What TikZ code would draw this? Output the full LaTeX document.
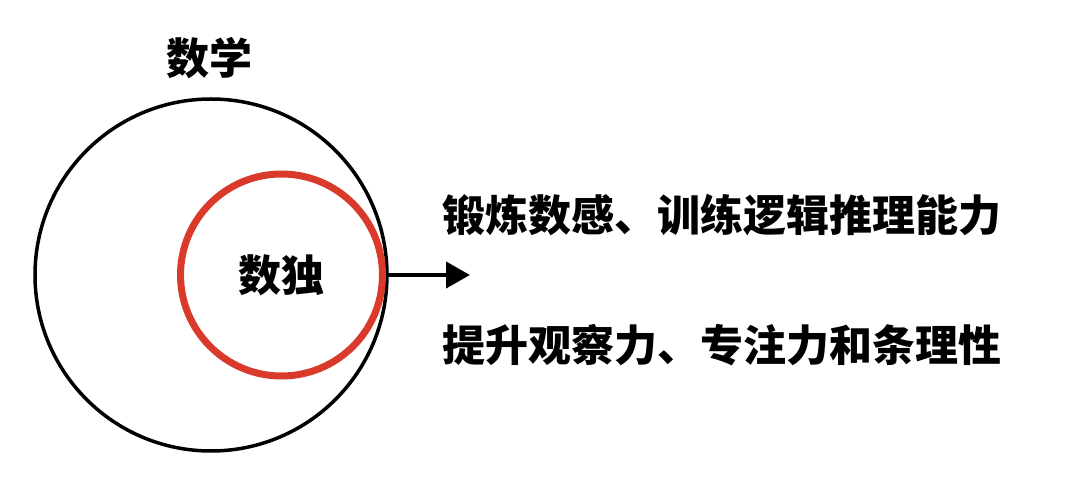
\documentclass[tikz,border=0pt]{standalone}
\usepackage{fontspec}
\newfontfamily\cjk{Noto Sans CJK SC}
\usetikzlibrary{arrows.meta,positioning}
\definecolor{pencilred}{HTML}{D93A2B}

\begin{document}
\begin{tikzpicture}[x=1pt,y=1pt,>={Triangle[length=24pt,width=26pt]},
  set node/.style={circle,draw,inner sep=0pt},
  word node/.style={font=\cjk\bfseries\fontsize{43}{43}\selectfont,inner sep=0pt}]

  \useasboundingbox (0,0) rectangle (1080,490);

  \node[set node,line width=3.5pt,minimum size=352pt] (math) at (211,215) {};
  \node[word node] (mathlabel) at (209,432) {数学};
  \node[set node,draw=pencilred,line width=7pt,minimum size=202pt,word node] (sudoku) at (281.5,215) {数独};

  \coordinate[right=84pt of sudoku.east] (tip);
  \draw[->,line width=4pt] (sudoku.east) -- (tip);

  \node[word node,anchor=west] (skill1) at (442,275) {锻炼数感、训练逻辑推理能力};
  \node[word node,anchor=west] (skill2) at (442,145) {提升观察力、专注力和条理性};

\end{tikzpicture}
\end{document}
